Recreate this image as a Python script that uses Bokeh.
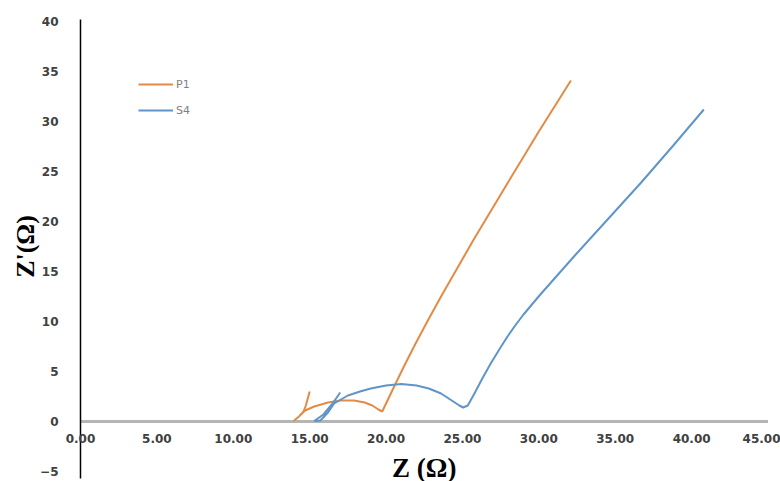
import math
from bokeh.plotting import figure
from bokeh.models import Range1d, FixedTicker, NumeralTickFormatter, Legend, LegendItem, Label
from bokeh.embed import file_html
from bokeh.resources import INLINE

# P1 series (Z, Z')
p1_z = [15.0, 14.75, 14.6, 14.3, 13.95, 14.3, 14.7, 15.3, 16.2, 17.0, 17.9, 18.6, 19.1, 19.5,
        19.75, 20.0, 20.5, 21.2, 21.9, 22.7, 23.6, 25.7, 27.9, 30.0, 32.1]
p1_zi = [3.0, 1.6, 1.0, 0.5, 0.05, 0.5, 1.1, 1.5, 1.9, 2.1, 2.1, 1.9, 1.6, 1.2,
         1.0, 1.8, 3.4, 5.6, 7.7, 10.0, 12.5, 18.1, 23.7, 29.0, 34.1]

# S4 series (Z, Z')
s4_z = [17.0, 16.5, 15.9, 15.3, 15.7, 16.2, 16.6, 17.5, 18.3, 19.0, 20.0, 21.0, 22.0, 22.8,
        23.6, 24.3, 24.8, 25.05, 25.35, 25.75, 26.3, 26.85, 27.45, 27.95, 28.5, 29.0, 29.6,
        30.1, 31.2, 32.3, 34.5, 36.7, 38.8, 40.8]
s4_zi = [2.9, 1.8, 0.7, 0.05, 0.1, 0.9, 1.8, 2.6, 3.0, 3.3, 3.6, 3.75, 3.6, 3.3,
         2.8, 2.1, 1.6, 1.4, 1.6, 2.7, 4.3, 5.8, 7.3, 8.5, 9.7, 10.7, 11.8,
         12.7, 14.6, 16.5, 20.2, 23.9, 27.6, 31.2]

series_names = ["P1", "S4"]
series_colors = ["#E38B45", "#5F95C8"]

x_ticks = [0, 5, 10, 15, 20, 25, 30, 35, 40, 45]
y_ticks = [-5, 0, 5, 10, 15, 20, 25, 30, 35, 40]
x_title = "Z (Ω)"
y_title = "Z'(Ω)"

# view window (data units) – frame covers the whole canvas
X_VIEW = (-5.236, 45.818)
Y_VIEW = (-6.0, 42.1)
# axis line extents
X_AXIS_SPAN = (0, 45)
Y_AXIS_SPAN = (-5.7, 40.2)

p = figure(width=780, height=481, output_backend="svg", toolbar_location=None,
           x_range=Range1d(*X_VIEW), y_range=Range1d(*Y_VIEW),
           min_border_left=0, min_border_right=0, min_border_top=0, min_border_bottom=0)
p.outline_line_color = None
p.grid.grid_line_color = None
p.background_fill_color = "white"
p.border_fill_color = "white"

# axis lines
p.segment(x0=[X_AXIS_SPAN[0]], y0=[0], x1=[X_AXIS_SPAN[1]], y1=[0],
          line_color="#B5B5B5", line_width=3)
p.segment(x0=[0], y0=[Y_AXIS_SPAN[0]], x1=[0], y1=[Y_AXIS_SPAN[1]],
          line_color="black", line_width=1.5)

r1 = p.line(p1_z, p1_zi, line_color=series_colors[0], line_width=2)
r2 = p.line(s4_z, s4_zi, line_color=series_colors[1], line_width=2)

# x axis at y = 0
xa = p.xaxis[0]
xa.fixed_location = 0
xa.ticker = FixedTicker(ticks=x_ticks)
xa.formatter = NumeralTickFormatter(format="0.00")
xa.axis_line_color = None
xa.major_tick_line_color = None
xa.minor_tick_line_color = None
xa.major_tick_out = 0
xa.major_tick_in = 0
xa.major_label_standoff = 12
xa.major_label_text_font = "DejaVu Sans"
xa.major_label_text_font_style = "bold"
xa.major_label_text_font_size = "12px"
xa.major_label_text_color = "#404040"

# y axis at x = 0
ya = p.yaxis[0]
ya.fixed_location = 0
ya.ticker = FixedTicker(ticks=y_ticks)
ya.axis_line_color = None
ya.major_tick_line_color = None
ya.minor_tick_line_color = None
ya.major_tick_out = 0
ya.major_tick_in = 0
ya.major_label_standoff = 22
ya.major_label_text_font = "DejaVu Sans"
ya.major_label_text_font_style = "bold"
ya.major_label_text_font_size = "12px"
ya.major_label_text_color = "#404040"

# axis titles, centred on the axis extents
p.add_layout(Label(x=(X_AXIS_SPAN[0] + X_AXIS_SPAN[1]) / 2, y=14, x_units="data", y_units="screen",
                   text=x_title, text_align="center", text_baseline="middle",
                   text_font="Liberation Serif", text_font_style="bold",
                   text_font_size="27px", text_color="black"))
p.add_layout(Label(x=25, y=(y_ticks[0] + y_ticks[-1]) / 2, x_units="screen", y_units="data",
                   text=y_title, angle=math.pi / 2, text_align="center", text_baseline="middle",
                   text_font="Liberation Serif", text_font_style="bold",
                   text_font_size="26px", text_color="black"))

legend = Legend(items=[LegendItem(label=series_names[0], renderers=[r1]),
                       LegendItem(label=series_names[1], renderers=[r2])],
                location=(138, 361))
legend.glyph_width = 35
legend.glyph_height = 20
legend.label_height = 20
legend.spacing = 6
legend.padding = 0
legend.margin = 0
legend.label_standoff = 3
legend.border_line_color = None
legend.background_fill_alpha = 0
legend.label_text_font = "DejaVu Sans"
legend.label_text_font_size = "11px"
legend.label_text_color = "#808080"
p.add_layout(legend)

open("out.html", "w").write(file_html(p, INLINE))
